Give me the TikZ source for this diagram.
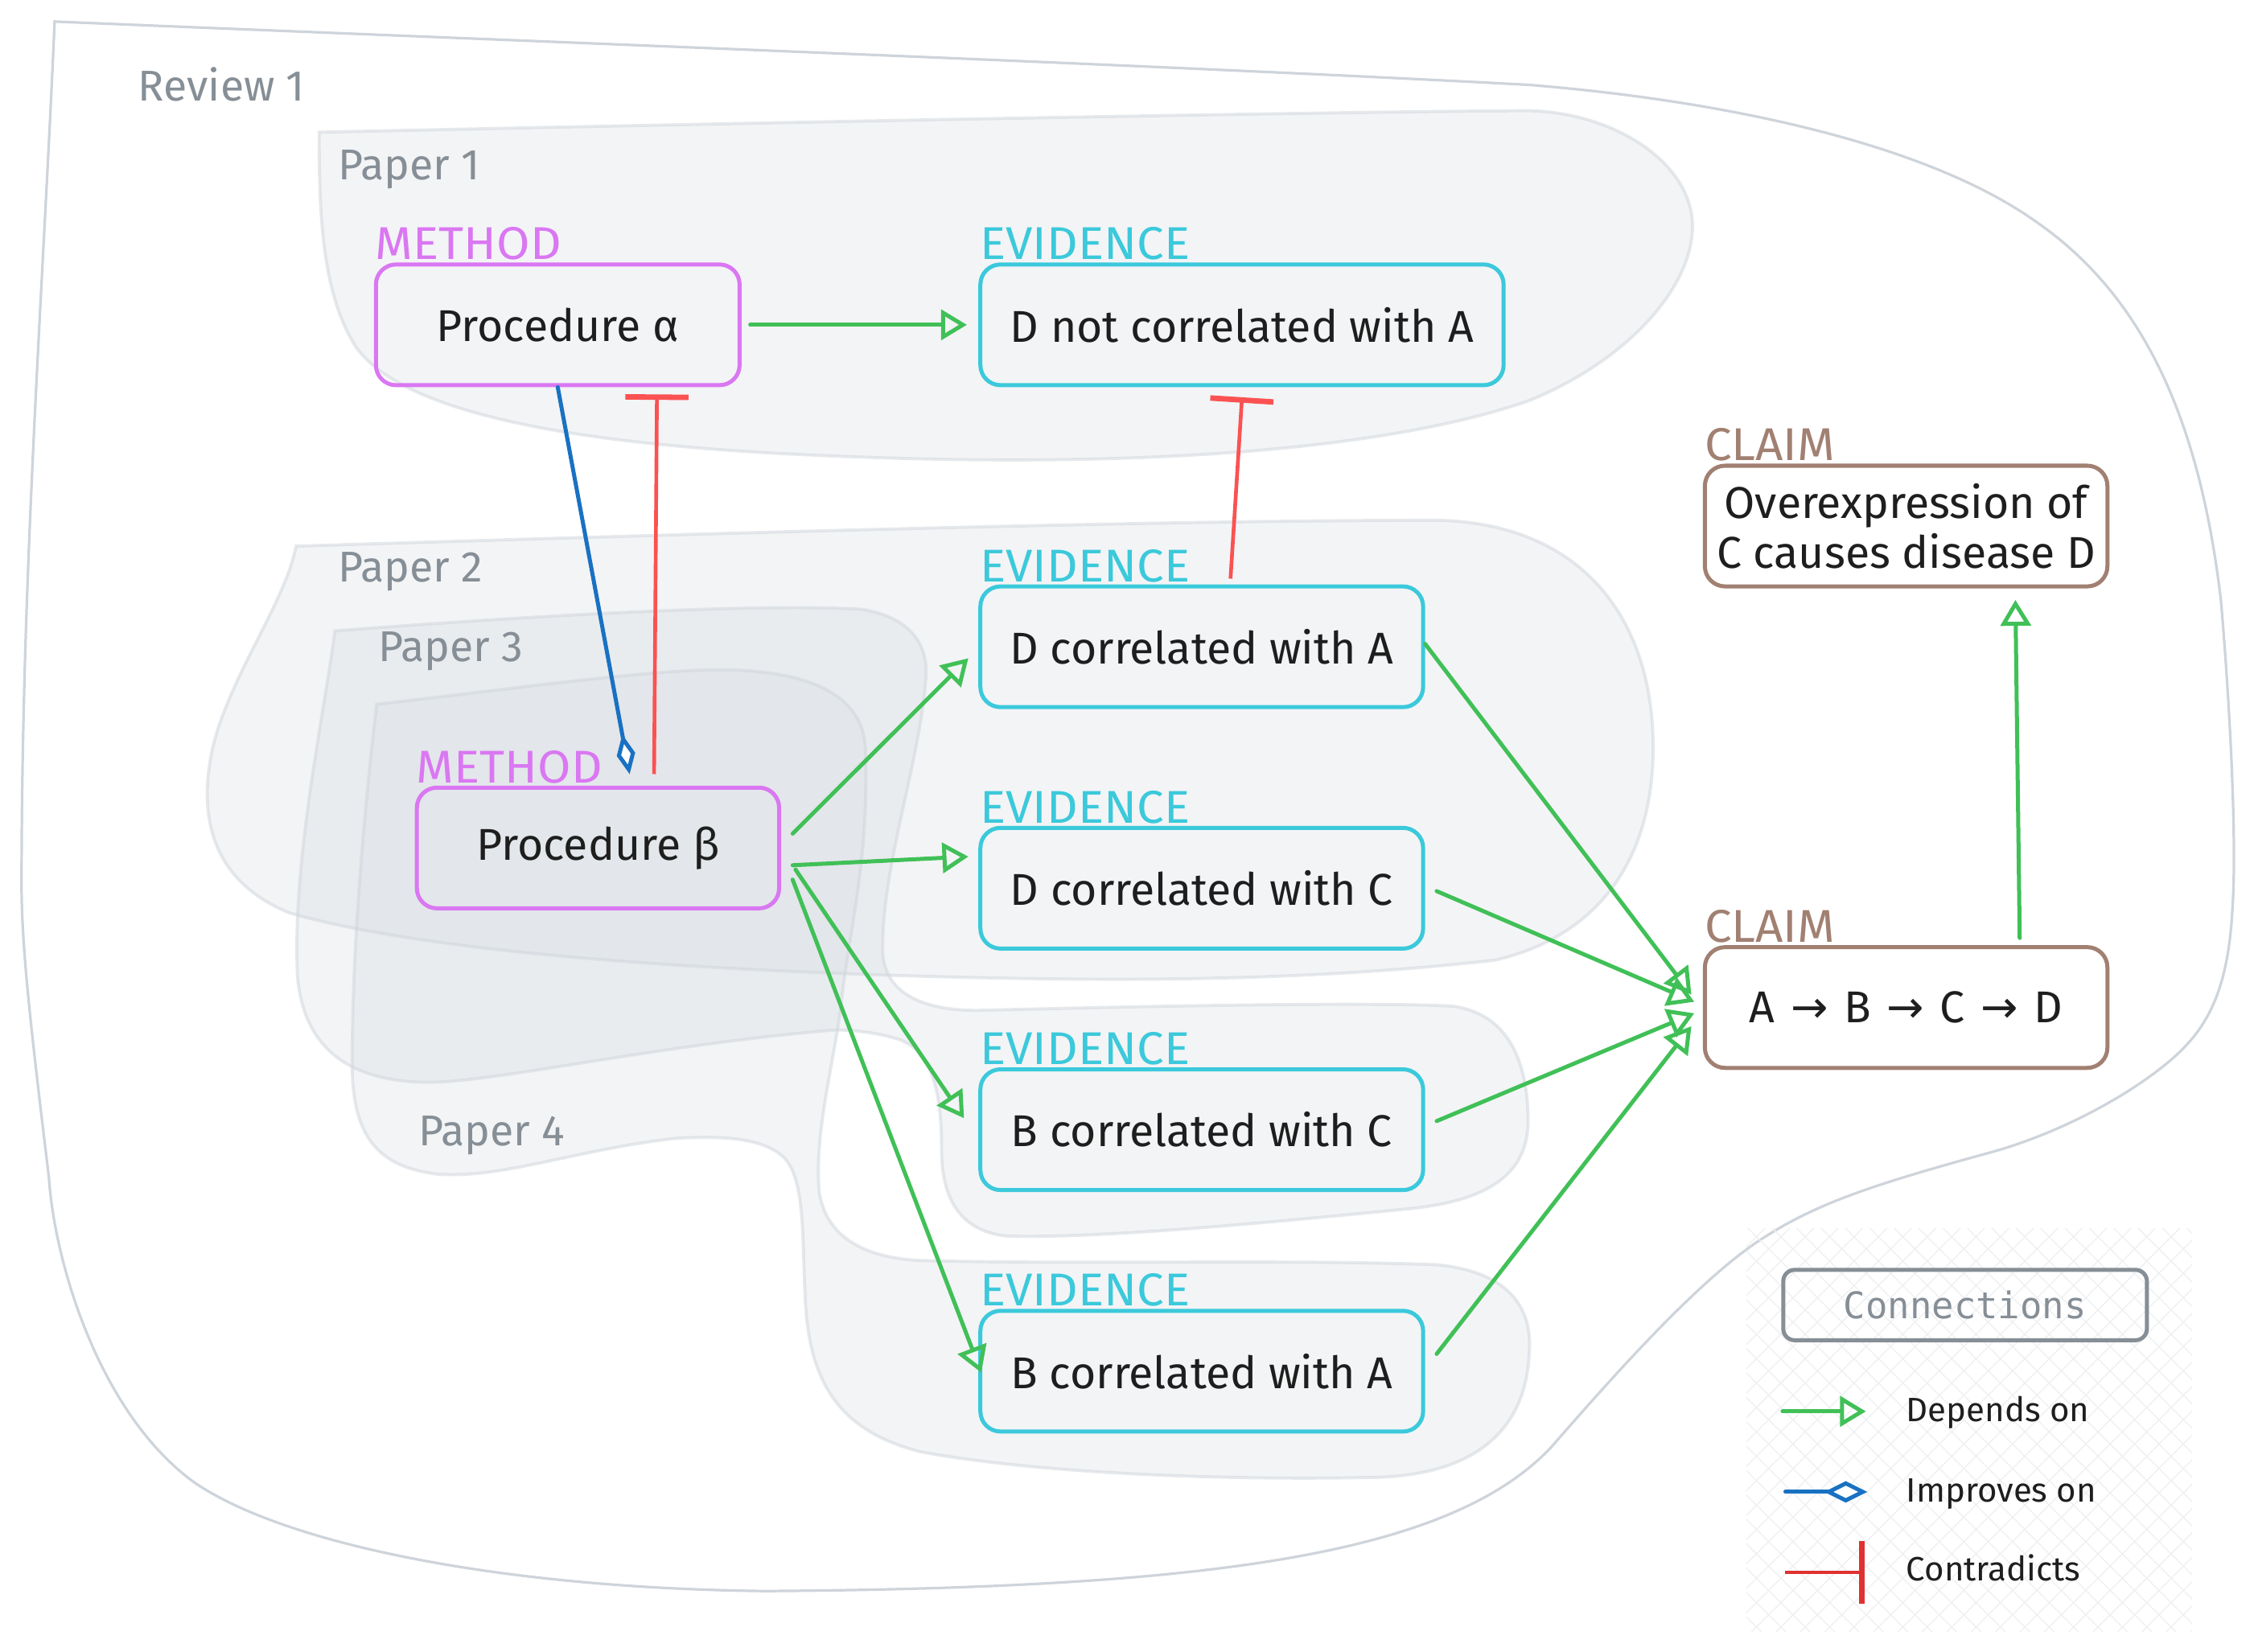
\documentclass[tikz,border=0pt]{standalone}
\usepackage{fontspec}
\setmainfont{Fira Sans}
\newfontfamily\monof{DejaVu Sans Mono}
\newfontfamily\arrowf{DejaVu Sans}
\usetikzlibrary{arrows.meta,calc,patterns.meta}
\definecolor{cgreen}{HTML}{40C057}
\definecolor{cblue}{HTML}{1971C2}
\definecolor{cred}{HTML}{FA5252}
\definecolor{cdred}{HTML}{E03131}
\definecolor{cmethod}{HTML}{DA77F2}
\definecolor{cevid}{HTML}{3BC9DB}
\definecolor{cclaim}{HTML}{A18072}
\definecolor{cgray}{HTML}{868E96}
\definecolor{ctext}{HTML}{1E1E1E}
\definecolor{cpaper}{HTML}{CED4DA}
\definecolor{cout}{HTML}{CED4DA}
\definecolor{chatch}{HTML}{EEF0F2}
\newcommand{\tagtext}[1]{\scalebox{1.05}[1]{#1}}
\begin{document}
\begin{tikzpicture}[x=1pt,y=-1pt,
  box/.style={rounded corners=14pt, line width=2.8pt, minimum height=84pt, inner sep=0pt, align=center, text=ctext, font=\fontsize{31}{35}\selectfont},
  methodbox/.style={box, draw=cmethod, minimum width=253pt},
  evidbox/.style={box, draw=cevid, minimum width=308pt},
  claimbox/.style={box, draw=cclaim, minimum width=280pt, fill=white},
  tag/.style={anchor=base west, inner sep=0pt, font=\fontsize{32}{32}\selectfont},
  paperlab/.style={anchor=base west, inner sep=0pt, text=cgray, font=\fontsize{30}{30}\selectfont},
  legtext/.style={anchor=base west, inner sep=0pt, text=ctext, font=\fontsize{23.5}{23.5}\selectfont},
  paper/.style={fill=cpaper, fill opacity=0.25, draw=cpaper, draw opacity=0.5, line width=2.2pt},
  dep/.style={draw=cgreen, line width=2.8pt, line cap=round, -{Triangle[open, length=18pt, width=21pt]}},
  imp/.style={draw=cblue, line width=2.8pt, line cap=round, -{Diamond[fill=white, length=28pt, width=13pt]}},
  con/.style={draw=cred, line width=2.6pt, -{Bar[width=44pt, line width=3.8pt]}}
]
\useasboundingbox (0,0) rectangle (1568,1149);

% Review 1 outline
\draw[cout, line width=1.8pt]
  (38,15) .. controls (400,30) and (800,45) .. (1063,59)
  .. controls (1200,70) and (1340,100) .. (1416,154)
  .. controls (1490,205) and (1530,290) .. (1545,418)
  .. controls (1552,500) and (1556,590) .. (1553,632)
  .. controls (1550,690) and (1535,715) .. (1513,735)
  .. controls (1485,760) and (1435,788) .. (1384,802)
  .. controls (1300,825) and (1262,838) .. (1224,863)
  .. controls (1180,892) and (1120,960) .. (1079,1007)
  .. controls (1010,1080) and (850,1105) .. (532,1107)
  .. controls (350,1105) and (200,1075) .. (136,1032)
  .. controls (70,985) and (38,880) .. (34,819)
  .. controls (22,720) and (15,660) .. (15,616)
  .. controls (15,400) and (30,200) .. (38,15) -- cycle;

% Paper 1
\path[paper]
  (222,92) .. controls (500,86) and (900,78) .. (1063,77)
  .. controls (1120,78) and (1172,110) .. (1177,151)
  .. controls (1182,195) and (1135,250) .. (1063,279)
  .. controls (950,318) and (760,324) .. (600,318)
  .. controls (420,312) and (285,292) .. (248,242)
  .. controls (224,205) and (222,150) .. (222,92) -- cycle;

% Paper 2
\path[paper]
  (206,380) .. controls (500,371) and (800,362) .. (1000,362)
  .. controls (1100,364) and (1150,430) .. (1150,520)
  .. controls (1150,600) and (1110,652) .. (1040,668)
  .. controls (900,684) and (760,682) .. (672,680)
  .. controls (500,676) and (300,664) .. (201,635)
  .. controls (145,612) and (138,565) .. (148,520)
  .. controls (160,470) and (198,420) .. (206,380) -- cycle;

% Paper 3
\path[paper]
  (233,439) .. controls (400,426) and (540,420) .. (600,424)
  .. controls (635,430) and (646,450) .. (644,472)
  .. controls (640,530) and (614,600) .. (614,660)
  .. controls (614,690) and (640,703) .. (680,703)
  .. controls (800,700) and (950,697) .. (1010,700)
  .. controls (1050,705) and (1063,740) .. (1063,780)
  .. controls (1063,820) and (1030,836) .. (980,841)
  .. controls (880,851) and (760,862) .. (700,860)
  .. controls (665,856) and (655,830) .. (655,800)
  .. controls (655,770) and (652,732) .. (625,723)
  .. controls (605,717) and (585,716) .. (576,717)
  .. controls (450,728) and (340,754) .. (295,753)
  .. controls (250,752) and (212,735) .. (207,680)
  .. controls (203,600) and (225,500) .. (233,439) -- cycle;

% Paper 4
\path[paper]
  (262,490) .. controls (350,480) and (450,466) .. (500,466)
  .. controls (560,466) and (600,482) .. (602,520)
  .. controls (605,600) and (590,650) .. (585,700)
  .. controls (580,740) and (566,790) .. (570,830)
  .. controls (575,860) and (600,875) .. (640,877)
  .. controls (750,880) and (900,876) .. (1000,880)
  .. controls (1050,885) and (1064,910) .. (1064,935)
  .. controls (1064,1000) and (1020,1028) .. (950,1028)
  .. controls (850,1030) and (720,1025) .. (640,1010)
  .. controls (582,995) and (562,960) .. (560,900)
  .. controls (558,860) and (560,822) .. (546,806)
  .. controls (532,792) and (505,790) .. (470,792)
  .. controls (400,800) and (350,820) .. (305,817)
  .. controls (262,812) and (245,790) .. (245,740)
  .. controls (245,650) and (255,550) .. (262,490) -- cycle;

% legend background hatch
\path[pattern={Lines[angle=45,distance=12pt,line width=0.8pt]}, pattern color=chatch] (1215,855) rectangle (1525,1135);
\path[pattern={Lines[angle=-45,distance=12pt,line width=0.8pt]}, pattern color=chatch] (1215,855) rectangle (1525,1135);

% region labels
\node[paperlab] (lrev) at (96,70) {Review 1};
\node[paperlab] (lp1) at (235,125) {Paper 1};
\node[paperlab] (lp2) at (235,405) {Paper 2};
\node[paperlab] (lp3) at (263,460) {Paper 3};
\node[paperlab] (lp4) at (291,797) {Paper 4};

% nodes
\node[methodbox] (pa) at (388,226) {Procedure α};
\node[evidbox, minimum width=364pt] (dn) at (864,226) {D not correlated with A};
\node[evidbox] (da) at (836,450) {D correlated with A};
\node[evidbox] (dc) at (836,618) {D correlated with C};
\node[evidbox] (bc) at (836,786) {B correlated with C};
\node[evidbox] (ba) at (836,954) {B correlated with A};
\node[methodbox, minimum width=252pt] (pb) at (416,590) {Procedure β};
\node[claimbox] (co) at (1326,366) {Overexpression of\\C causes disease D};
\node[claimbox] (cl) at (1326,701) {A\hspace{11pt}{\arrowf →}\hspace{11pt}B\hspace{11pt}{\arrowf →}\hspace{11pt}C\hspace{11pt}{\arrowf →}\hspace{11pt}D};

% type tags
\node[tag, text=cmethod] (tpa) at ($(pa.north west)+(1,-2)$) {\tagtext{METHOD}};
\node[tag, text=cevid] (tdn) at ($(dn.north west)+(1,-2)$) {\tagtext{EVIDENCE}};
\node[tag, text=cevid] (tda) at ($(da.north west)+(1,-2)$) {\tagtext{EVIDENCE}};
\node[tag, text=cevid] (tdc) at ($(dc.north west)+(1,-2)$) {\tagtext{EVIDENCE}};
\node[tag, text=cevid] (tbc) at ($(bc.north west)+(1,-2)$) {\tagtext{EVIDENCE}};
\node[tag, text=cevid] (tba) at ($(ba.north west)+(1,-2)$) {\tagtext{EVIDENCE}};
\node[tag, text=cmethod] (tpb) at ($(pb.north west)+(1,-2)$) {\tagtext{METHOD}};
\node[tag, text=cclaim] (tco) at ($(co.north west)+(1,-2)$) {\tagtext{CLAIM}};
\node[tag, text=cclaim] (tcl) at ($(cl.north west)+(1,-2)$) {\tagtext{CLAIM}};

% connectors
\draw[dep] ($(pa.east)+(6,0)$) -- ($(dn.west)+(-8,0)$);
\draw[imp] (pa.south) -- ($(pb.north)+(22,-8)$);
\draw[con] ($(pb.north)+(39,-8)$) -- ($(pa.south)+(69,5)$);
\draw[con] ($(da.north)+(20,-4)$) -- ($(dn.south)+(0,7)$);
\draw[dep] ($(pb.east)+(8,-10)$) -- ($(da.west)+(-7,8)$);
\draw[dep] ($(pb.east)+(8,12)$) -- ($(dc.west)+(-7,-22)$);
\draw[dep] ($(pb.east)+(10,15)$) -- ($(bc.west)+(-10,-8)$);
\draw[dep] ($(pb.east)+(8,22)$) -- ($(ba.west)+(2,1)$);
\draw[dep] ($(da.east)+(0,-2)$) -- ($(cl.west)+(-8,-9)$);
\draw[dep] ($(dc.east)+(8,2)$) -- ($(cl.west)+(-6,-4)$);
\draw[dep] ($(bc.east)+(8,-6)$) -- ($(cl.west)+(-6,4)$);
\draw[dep] ($(ba.east)+(8,-12)$) -- ($(cl.west)+(-8,13)$);
\draw[dep] ($(cl.north)+(79,-5)$) -- ($(co.south)+(76,8)$);

% legend
\node[draw=cgray, line width=2.8pt, rounded corners=8pt, minimum width=253pt, minimum height=49pt, inner sep=0pt, text=cgray, font=\monof\fontsize{25.5}{25.5}\selectfont] (leg) at (1367,908) {Connections};
\coordinate (l1a) at (1240,982);
\coordinate (l1b) at (1298,982);
\coordinate (l2a) at (1242,1038);
\coordinate (l2b) at (1299,1038);
\coordinate (l3a) at (1242,1094);
\coordinate (l3b) at (1297,1094);
\draw[dep] (l1a) -- (l1b);
\draw[imp, -{Diamond[fill=white, length=30pt, width=15pt]}] (l2a) -- (l2b);
\draw[con, draw=cdred] (l3a) -- (l3b);
\node[legtext] (t1) at (1326,989) {Depends on};
\node[legtext] (t2) at (1326,1045) {Improves on};
\node[legtext] (t3) at (1326,1100) {Contradicts};
\end{tikzpicture}
\end{document}
